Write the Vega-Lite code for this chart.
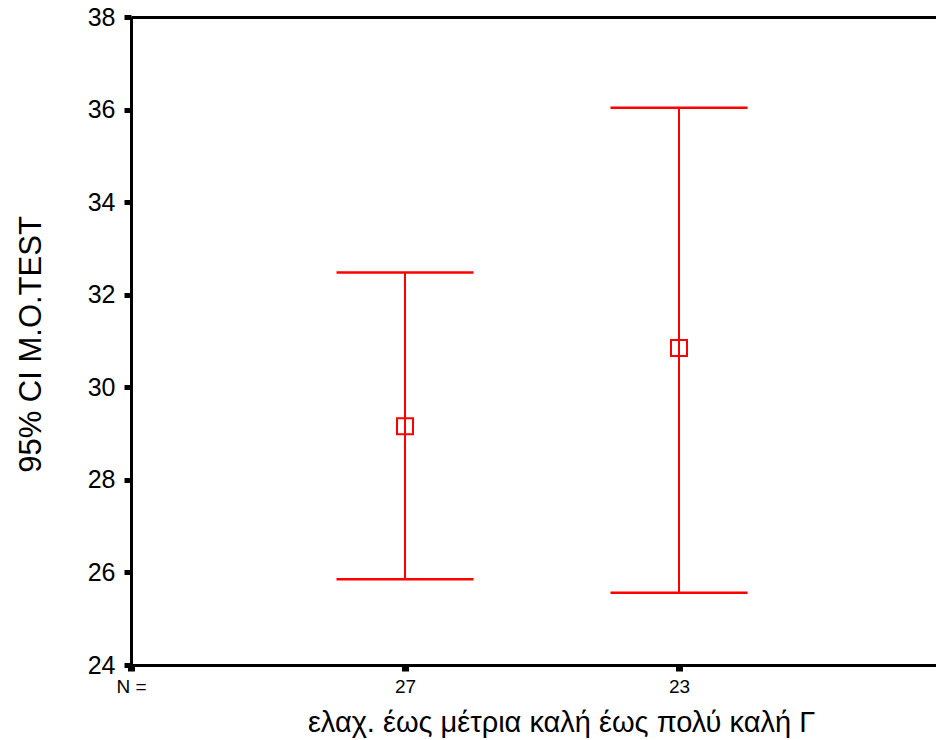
{
  "$schema": "https://vega.github.io/schema/vega-lite/v6.json",
  "width": 805,
  "height": 648,
  "autosize": {"type": "none"},
  "padding": {"left": 131, "top": 17, "right": 0, "bottom": 75},
  "background": "white",
  "config": {
    "view": {"stroke": null},
    "font": "Liberation Sans",
    "axis": {"grid": false, "domainColor": "black", "domainWidth": 3, "tickColor": "black", "labelColor": "black", "titleColor": "black", "titleFontWeight": "normal"},
    "axisLeft": {"labelFontSize": 25, "labelPadding": 9, "tickSize": 7, "tickWidth": 5, "titleFontSize": 31},
    "axisBottom": {"labelFontSize": 19, "labelPadding": 6, "tickSize": 6, "tickWidth": 7, "titleFontSize": 29, "labelAngle": 0}
  },
  "data": {"values": [
    {"n": "27", "mean": 29.16, "lower": 25.85, "upper": 32.48},
    {"n": "23", "mean": 30.85, "lower": 25.56, "upper": 36.04}
  ]},
  "resolve": {"axis": {"x": "independent"}},
  "layer": [
    {
      "mark": {"type": "rule", "color": "#ff0000", "strokeWidth": 2, "opacity": 1},
      "encoding": {
        "x": {
          "field": "n", "type": "ordinal",
          "scale": {"type": "point", "domain": ["N =", "27", "23", "·"], "range": [0, 822], "padding": 0},
          "axis": {
            "orient": "bottom",
            "title": "ελαχ. έως μέτρια καλή έως πολύ καλή Γ",
            "titleX": 430, "titleY": 66, "titleBaseline": "alphabetic", "titleAlign": "center",
            "labelExpr": "datum.value == '·' ? '' : datum.value"
          }
        },
        "y": {
          "field": "lower", "type": "quantitative",
          "scale": {"domain": [24, 38], "nice": false, "zero": false},
          "axis": {
            "title": "95% CI M.O.TEST",
            "titleX": -100, "titleY": 327, "titleBaseline": "middle", "titleAlign": "center",
            "values": [24, 26, 28, 30, 32, 34, 36, 38]
          }
        },
        "y2": {"field": "upper"}
      }
    },
    {
      "mark": {"type": "tick", "orient": "horizontal", "color": "#ff0000", "size": 137, "thickness": 2.5, "opacity": 1},
      "encoding": {
        "x": {"field": "n", "type": "ordinal", "axis": null},
        "y": {"field": "upper", "type": "quantitative"}
      }
    },
    {
      "mark": {"type": "tick", "orient": "horizontal", "color": "#ff0000", "size": 137, "thickness": 2.5, "opacity": 1},
      "encoding": {
        "x": {"field": "n", "type": "ordinal", "axis": null},
        "y": {"field": "lower", "type": "quantitative"}
      }
    },
    {
      "mark": {"type": "point", "shape": "square", "filled": false, "color": "#ff0000", "size": 256, "strokeWidth": 2, "opacity": 1},
      "encoding": {
        "x": {
          "field": "n", "type": "ordinal",
          "axis": {"orient": "top", "title": null, "labels": false, "ticks": false}
        },
        "y": {"field": "mean", "type": "quantitative"}
      }
    }
  ]
}
